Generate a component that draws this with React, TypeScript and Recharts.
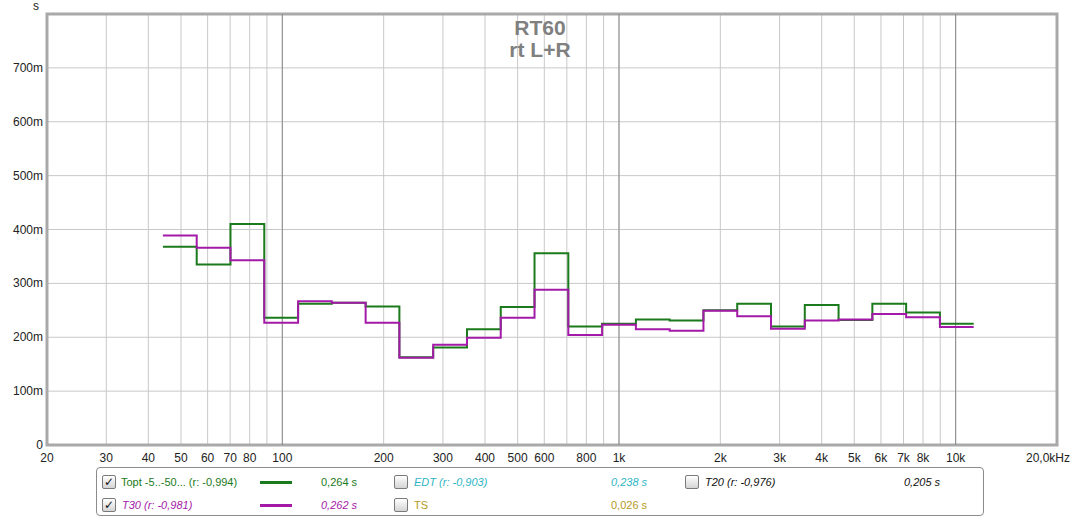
import React from 'react';
import { LineChart, Line, XAxis, YAxis, CartesianGrid, ReferenceLine, ReferenceArea } from 'recharts';

// 1/3-octave band edges (Hz), lower edge of each band plus final upper edge
const bandEdges = [44.19, 55.68, 70.15, 88.39, 111.4, 140.3, 176.8, 222.7, 280.6, 353.6, 445.4, 561.2, 707.1, 890.9, 1122.5, 1414.2, 1781.8, 2244.9, 2828.4, 3563.6, 4489.8, 5656.9, 7127.2, 8979.7, 11313.7];
// Topt (s) per band: 50 Hz ... 10 kHz
const toptValues = [0.368, 0.335, 0.410, 0.236, 0.262, 0.264, 0.257, 0.163, 0.181, 0.215, 0.256, 0.356, 0.220, 0.225, 0.233, 0.231, 0.250, 0.262, 0.220, 0.260, 0.232, 0.262, 0.246, 0.225];
// T30 (s) per band
const t30Values = [0.389, 0.366, 0.343, 0.227, 0.267, 0.264, 0.227, 0.162, 0.186, 0.199, 0.236, 0.288, 0.204, 0.223, 0.215, 0.212, 0.249, 0.239, 0.216, 0.231, 0.233, 0.243, 0.237, 0.219];

const gridFreqs = [20, 30, 40, 50, 60, 70, 80, 90, 100, 200, 300, 400, 500, 600, 700, 800, 900, 1000, 2000, 3000, 4000, 5000, 6000, 7000, 8000, 9000, 10000, 20000];
const xLabels: Record<number, string> = {
  20: '20', 30: '30', 40: '40', 50: '50', 60: '60', 70: '70', 80: '80', 100: '100',
  200: '200', 300: '300', 400: '400', 500: '500', 600: '600', 800: '800', 1000: '1k',
  2000: '2k', 3000: '3k', 4000: '4k', 5000: '5k', 6000: '6k', 7000: '7k', 8000: '8k',
  10000: '10k', 20000: '20,0kHz',
};
const majorFreqs = [100, 1000, 10000];
const yTicks = [0, 0.1, 0.2, 0.3, 0.4, 0.5, 0.6, 0.7, 0.8];
const yLabels = ['0', '100m', '200m', '300m', '400m', '500m', '600m', '700m', ''];

const GREEN = '#1b7a1b';
const MAGENTA = '#a41aa8';
const FONT = '"Liberation Sans", Arial, sans-serif';

const data = bandEdges.map((f, i) => ({
  f,
  topt: toptValues[Math.min(i, toptValues.length - 1)],
  t30: t30Values[Math.min(i, t30Values.length - 1)],
}));

const XTick = (props: any) => {
  const { x, payload } = props;
  const label = xLabels[payload.value];
  if (!label) return <g />;
  const last = payload.value === 20000;
  return (
    <text x={last ? x + 13 : x} y={462} textAnchor={last ? 'end' : 'middle'} fontSize={12} fontFamily={FONT} fill="#222">
      {label}
    </text>
  );
};

const YTick = (props: any) => {
  const { y, payload } = props;
  const idx = yTicks.findIndex((t) => Math.abs(t - payload.value) < 1e-6);
  const label = idx >= 0 ? yLabels[idx] : '';
  if (!label) return <g />;
  return (
    <text x={43} y={y + 4} textAnchor="end" fontSize={12} fontFamily={FONT} fill="#222">
      {label}
    </text>
  );
};

const abs = (left: number, top: number, extra: React.CSSProperties = {}): React.CSSProperties => ({
  position: 'absolute', left, top, fontSize: 11, lineHeight: '14px', fontFamily: FONT, whiteSpace: 'nowrap', ...extra,
});

const CheckBox = ({ left, top, checked }: { left: number; top: number; checked: boolean }) => (
  <div style={{
    position: 'absolute', left, top, width: 12, height: 12, border: '1px solid #7a7a7a', borderRadius: 2,
    background: 'linear-gradient(#ffffff, #d4d4d4)', fontSize: 12, lineHeight: '12px', textAlign: 'center',
    fontFamily: '"DejaVu Sans", sans-serif', fontWeight: 'bold', color: '#111',
  }}>{checked ? '✓' : ''}</div>
);

export default function App() {
  return (
    <div style={{ position: 'absolute', left: 0, top: 0, width: 1079, height: 517, background: '#fff', overflow: 'hidden' }}>
      <LineChart width={1079} height={517} data={data} margin={{ top: 14, right: 22, left: 0, bottom: 52 }}>
        <CartesianGrid stroke="#c8c8c8" strokeWidth={1} />
        <XAxis dataKey="f" type="number" scale="log" domain={[20, 20000]} allowDataOverflow ticks={gridFreqs}
          interval={0} tick={<XTick />} tickLine={false} axisLine={false} height={20} />
        <YAxis type="number" domain={[0, 0.8]} ticks={yTicks} interval={0} tick={<YTick />} tickLine={false}
          axisLine={false} width={47} allowDataOverflow />
        {majorFreqs.map((f) => (
          <ReferenceLine key={f} x={f} stroke="#8a8a8a" strokeWidth={1} />
        ))}
        <Line dataKey="topt" type="stepAfter" stroke={GREEN} strokeWidth={2} dot={false} isAnimationActive={false} />
        <Line dataKey="t30" type="stepAfter" stroke={MAGENTA} strokeWidth={2} dot={false} isAnimationActive={false} />
        <ReferenceArea x1={20} x2={20000} y1={0} y2={0.8} fill="none" fillOpacity={0} stroke="#a9a9a9" strokeWidth={3} ifOverflow="visible" />
      </LineChart>

      <div style={abs(33, 0, { fontSize: 12, lineHeight: '12px', color: '#222' })}>s</div>
      <div style={abs(440, 18, { width: 200, textAlign: 'center', fontSize: 21, lineHeight: '19px', fontWeight: 'bold', color: '#808080' })}>RT60</div>
      <div style={abs(440, 40, { width: 200, textAlign: 'center', fontSize: 21, lineHeight: '19px', fontWeight: 'bold', color: '#808080' })}>rt L+R</div>

      <div style={{ position: 'absolute', left: 96, top: 467, width: 886, height: 47, border: '1px solid #8c8c8c', borderRadius: 4 }} />
      <CheckBox left={102} top={475} checked />
      <div style={abs(121, 475, { color: GREEN })}>Topt -5..-50... (r: -0,994)</div>
      <div style={{ position: 'absolute', left: 260, top: 481, width: 32, height: 3, background: GREEN }} />
      <div style={abs(321, 475, { color: GREEN })}>0,264 s</div>
      <CheckBox left={394} top={475} checked={false} />
      <div style={abs(414, 475, { color: '#2fb5c4', fontStyle: 'italic' })}>EDT (r: -0,903)</div>
      <div style={abs(611, 475, { color: '#2fb5c4', fontStyle: 'italic' })}>0,238 s</div>
      <CheckBox left={685} top={475} checked={false} />
      <div style={abs(705, 475, { color: '#111', fontStyle: 'italic' })}>T20 (r: -0,976)</div>
      <div style={abs(904, 475, { color: '#111', fontStyle: 'italic' })}>0,205 s</div>

      <CheckBox left={102} top={498} checked />
      <div style={abs(122, 498, { color: MAGENTA, fontStyle: 'italic' })}>T30 (r: -0,981)</div>
      <div style={{ position: 'absolute', left: 260, top: 504, width: 32, height: 3, background: MAGENTA }} />
      <div style={abs(321, 498, { color: MAGENTA, fontStyle: 'italic' })}>0,262 s</div>
      <CheckBox left={394} top={498} checked={false} />
      <div style={abs(414, 498, { color: '#b59a1e' })}>TS</div>
      <div style={abs(611, 498, { color: '#b59a1e' })}>0,026 s</div>
    </div>
  );
}
